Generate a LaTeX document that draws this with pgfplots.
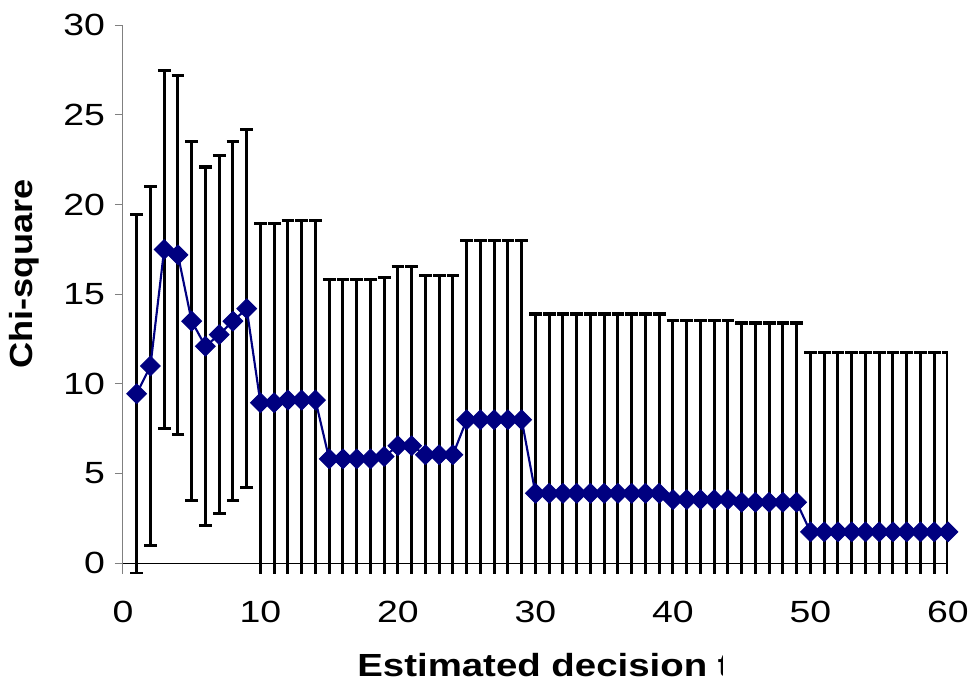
\documentclass[border=0pt]{standalone}
\usepackage{pgfplots}
\usepackage{pgfplotstable}
\pgfplotsset{compat=1.18}
\usepackage{fontspec}
\setmainfont{Liberation Sans}
\newfontfamily\tickfont{Liberation Sans}[FakeStretch=1.22]
\newfontfamily\labfont{Liberation Sans}[FakeStretch=1.13]
\newfontfamily\xlabfont{Liberation Sans}[FakeStretch=1.2]
\definecolor{navy}{RGB}{0,0,128}

\pgfplotstableread{
x y e
1 9.45 10
2 11.0 10
3 17.5 10
4 17.2 10
5 13.5 10
6 12.1 10
7 12.75 10
8 13.5 10
9 14.2 10
10 8.95 10
11 8.95 10
12 9.1 10
13 9.1 10
14 9.1 10
15 5.82 10
16 5.82 10
17 5.82 10
18 5.82 10
19 5.95 10
20 6.55 10
21 6.55 10
22 6.05 10
23 6.05 10
24 6.05 10
25 8.0 10
26 8.0 10
27 8.0 10
28 8.0 10
29 8.0 10
30 3.9 10
31 3.9 10
32 3.9 10
33 3.9 10
34 3.9 10
35 3.9 10
36 3.9 10
37 3.9 10
38 3.9 10
39 3.9 10
40 3.55 10
41 3.55 10
42 3.55 10
43 3.55 10
44 3.55 10
45 3.4 10
46 3.4 10
47 3.4 10
48 3.4 10
49 3.4 10
50 1.75 10
51 1.75 10
52 1.75 10
53 1.75 10
54 1.75 10
55 1.75 10
56 1.75 10
57 1.75 10
58 1.75 10
59 1.75 10
60 1.75 10
}\chidata

\begin{document}
\begin{tikzpicture}
\useasboundingbox (-92.2pt,-81pt) rectangle (633.8pt,430.5pt);
\begin{axis}[
  at={(0pt,0pt)}, anchor=south west,
  scale only axis, width=618.75pt, height=411.5pt,
  xmin=0, xmax=60, ymin=-0.6, ymax=30,
  axis x line*=bottom, axis y line*=left,
  axis line style={-},
  x axis line style={draw=none},
  y axis line style={draw=gray, line width=0.75pt},
  xtick={0,10,...,60}, xtick style={draw=none},
  ytick={0,5,...,30}, ytick style={draw=gray, line width=0.75pt},
  tick align=outside, major tick length=6pt,
  extra y ticks={0}, extra y tick labels={},
  extra y tick style={grid=major, major grid style={draw=black, line width=0.75pt}, tick style={draw=black, line width=0.75pt}},
  /pgf/number format/assume math mode=true,
  tick label style={font=\fontsize{23}{27}\tickfont},
  xticklabel style={yshift=-11pt},
  yticklabel style={xshift=-4pt},
  xlabel={Estimated decision t},
  ylabel={Chi-square},
  xlabel style={at={(rel axis cs:0.2838,-0.187)}, anchor=base west, inner sep=0pt, name=xl, font=\fontsize{24}{28}\xlabfont\bfseries},
  ylabel style={at={(rel axis cs:-0.1199,0.5467)}, anchor=center, font=\fontsize{24}{28}\labfont\bfseries},
]
\addplot[draw=none, mark=none, forget plot,
  error bars/.cd, y dir=both, y explicit,
  error bar style={draw=black, line width=2.3pt},
  error mark options={rotate=90, draw=black, line width=2.3pt, mark size=4.8pt}]
  table[x=x, y=y, y error=e] {\chidata};
\addplot[navy, line width=1.6pt, mark=square*, mark size=5.2pt,
  mark options={rotate=45, fill=navy, draw=navy, line width=0.75pt, solid}]
  table[x=x, y=y] {\chidata};
\end{axis}
\fill[white] ([xshift=-6.3pt,yshift=-8pt]xl.south east) rectangle ([xshift=3pt,yshift=3pt]xl.north east);
\end{tikzpicture}
\end{document}
